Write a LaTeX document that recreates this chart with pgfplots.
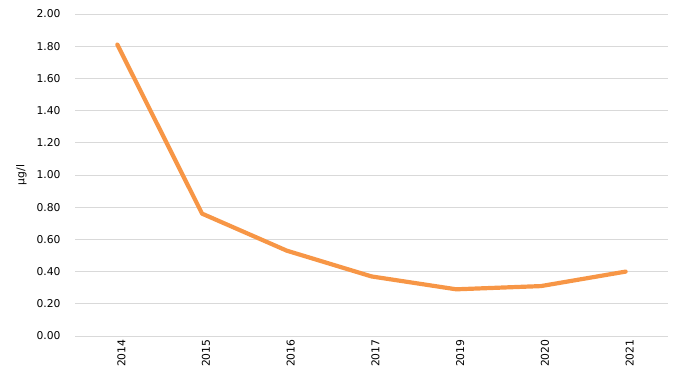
\documentclass[border=0pt]{standalone}
\usepackage{fontspec}
\setmainfont{DejaVu Sans}
\usepackage{pgfplots}
\pgfplotsset{compat=1.18}
\definecolor{lineor}{HTML}{F79646}
\definecolor{gridc}{HTML}{D9D9D9}
\begin{document}
\begin{tikzpicture}
\useasboundingbox (-75bp,-44bp) rectangle (609bp,336bp);
\begin{axis}[
  at={(0,0)}, anchor=south west,
  scale only axis,
  width=593bp, height=322bp,
  xmin=-0.5, xmax=6.5,
  ymin=0, ymax=2,
  ytick={0,0.2,...,2.01},
  xtick={0,...,6},
  xticklabels={2014,2015,2016,2017,2019,2020,2021},
  xticklabel style={rotate=90, anchor=east, font=\fontsize{10.8}{12}\selectfont, text=black, yshift=-4bp},
  yticklabel style={font=\fontsize{10.8}{12}\selectfont, text=black, xshift=-11bp},
  /pgf/number format/assume math mode=true,
  /pgf/number format/.cd, fixed, fixed zerofill, precision=2, /pgfplots/.cd,
  ymajorgrids,
  grid style={gridc, line width=0.8bp},
  axis line style={draw=none},
  major tick length=0pt,
  tick style={draw=none},
  ylabel={µg/l},
  ylabel style={font=\fontsize{10.8}{12}\selectfont, text=black, yshift=3bp},
  clip=false,
]
\addplot[lineor, line width=4.2bp, line join=round, line cap=round] coordinates {
(0,1.81) (1,0.76) (2,0.53) (3,0.37) (4,0.29) (5,0.31) (6,0.40)
};
\end{axis}
\end{tikzpicture}
\end{document}
